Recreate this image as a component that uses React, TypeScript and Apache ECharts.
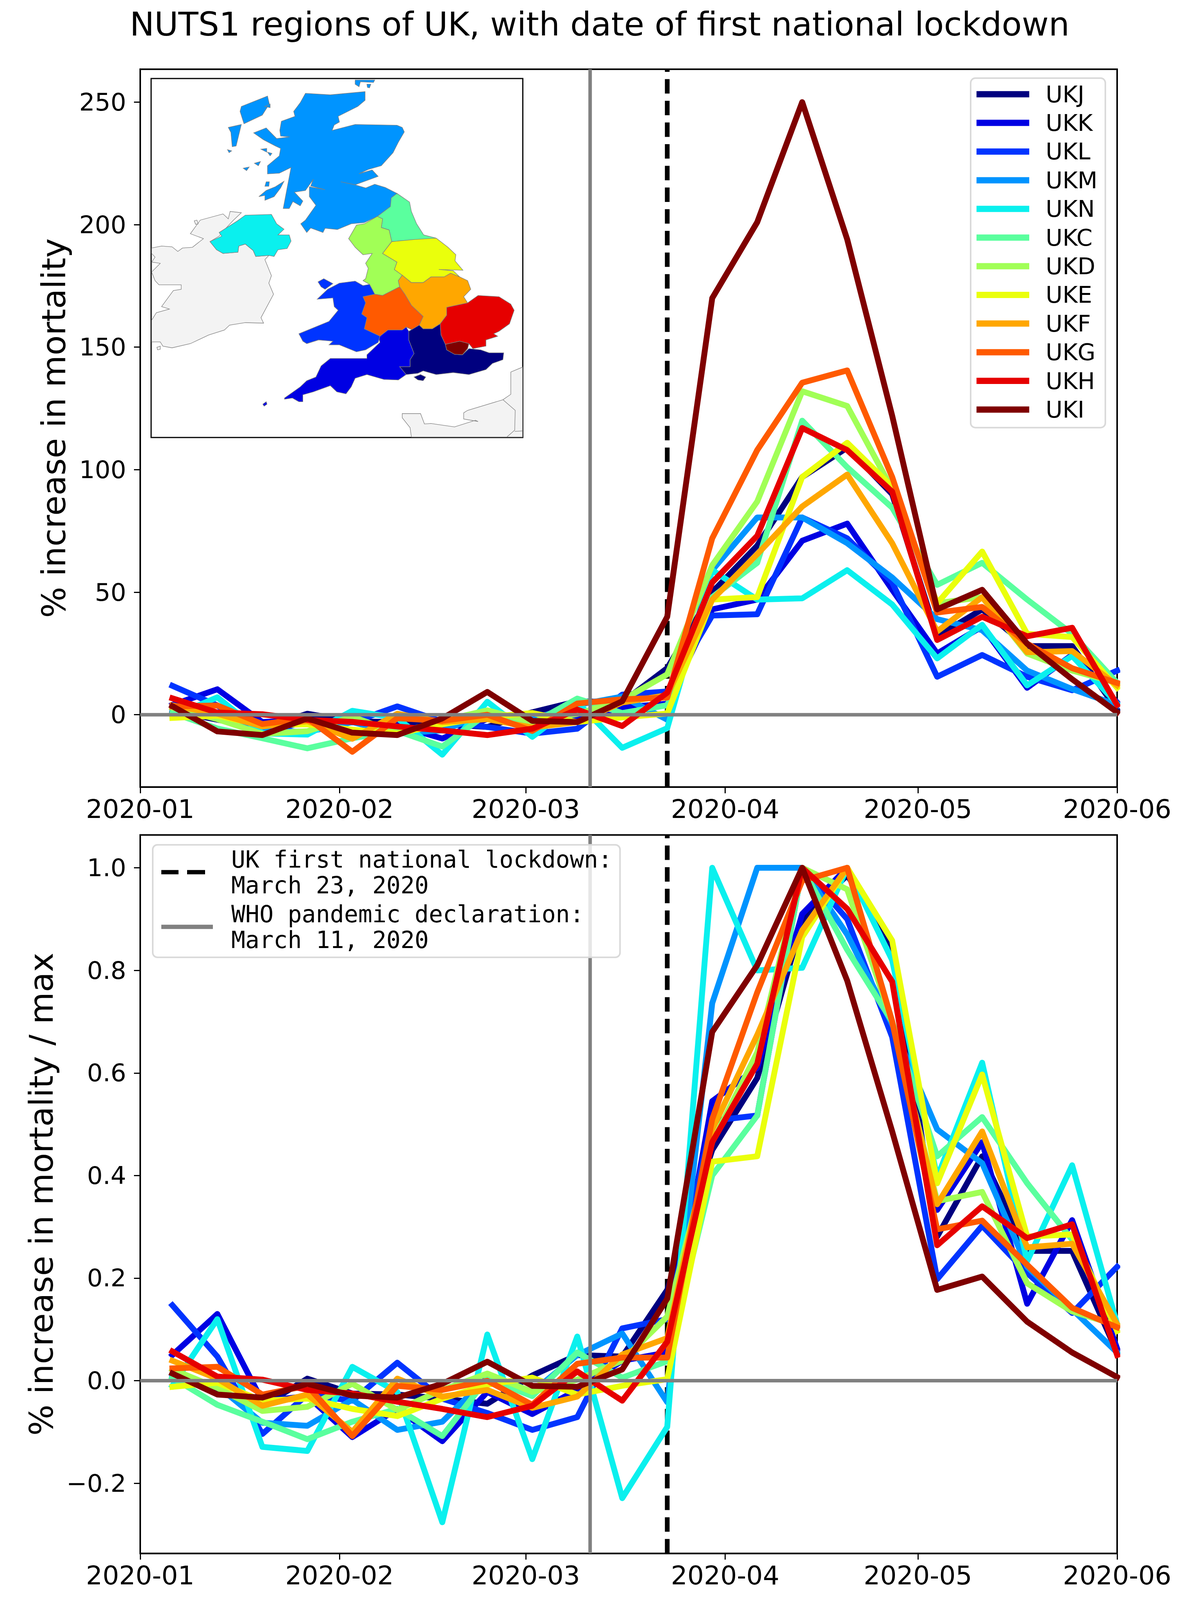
import React, { useEffect, useRef } from "react";
import * as echarts from "echarts";

const weeks = ["2020-01-06","2020-01-13","2020-01-20","2020-01-27","2020-02-03","2020-02-10","2020-02-17","2020-02-24","2020-03-02","2020-03-09","2020-03-16","2020-03-23","2020-03-30","2020-04-06","2020-04-13","2020-04-20","2020-04-27","2020-05-04","2020-05-11","2020-05-18","2020-05-25","2020-06-01"];
const monthTicks = ["2020-01-01","2020-02-01","2020-03-01","2020-04-01","2020-05-01","2020-06-01"];
const regions = ["UKJ","UKK","UKL","UKM","UKN","UKC","UKD","UKE","UKF","UKG","UKH","UKI"];
const regionColors = ["#00007f","#0000e3","#0034ff","#0094ff","#0af0ee","#5aff9e","#a1ff56","#eaff0c","#ffa700","#ff5a00","#e60000","#7f0000"];
const topTicks = [0,50,100,150,200,250];
const bottomTicks = [-0.2,0,0.2,0.4,0.6,0.8,1.0];

const pctUKJ = [1.5,-2,-5.5,0.4,-2.7,-3,-3.8,-5,1,5.5,5.1,19,50,69,97,109,90,32,43,28,28,2];
const pctUKK = [4,10.4,-3,-2,-8.5,-4.3,-9.7,-1.7,-5,-1.4,3,4.5,43,47,71,78,51,25,36,11,24.4,5];
const pctUKL = [11.8,3.8,-8.4,-2.2,-3.1,3.4,-2.8,-5,-7.7,-5.7,8.2,9.5,40.5,41,80.5,72,54,15.5,24.4,15.5,10,18];
const pctUKM = [0.8,-0.8,-6.6,-7,-3,-7.7,-6.4,0.5,-1.8,4,7.4,-2,59,80.5,80.5,70,56,39,34.5,18,10.5,4];
const pctUKN = [-0.6,7.1,-7.6,-8.1,1.6,-1.3,-16.3,5.3,-9,5.1,-13.5,-5.5,59,47,47.5,59,45,23,36.7,12,24,4.5];
const pctUKC = [0.7,-5.6,-9.6,-13.7,-9.6,-6.6,-13,0.5,-3.6,6.6,0.7,3.9,48,62,120,101,84.5,53,62,47,33,13];
const pctUKD = [2.9,-1.8,-7.8,-6.7,-0.8,-7.5,-2.4,1.8,-2.9,0.3,6,16.5,61,87,132,126,92,45.5,48,25,18,13];
const pctUKE = [-1.3,-0.4,-4.3,-3.9,-6.1,-7.7,-3.9,-0.9,0.7,-3,-1.1,0.5,47,48,97,111,93,45.5,66.6,33,31.7,11];
const pctUKF = [3.8,0.4,-4.8,-2.6,-9.8,0.4,-3,-1.8,-5.2,-3,5,8,47,65.5,85,98,70,34,48,25.5,26,12];
const pctUKG = [3.4,3.8,-3.8,-1.4,-15.1,-1.4,-2.5,0,-6.6,4.6,6.3,7,72,108,135.5,140.5,97,41.7,44,29,19,13];
const pctUKH = [6.7,0.9,0.2,-2.1,-2.9,-4.8,-6.4,-8.3,-5.7,2.1,-4.6,9,54,73,117,108,91,30.5,40,32,35.5,4];
const pctUKI = [3.5,-6.8,-8.3,-1.5,-7.3,-8.3,-1.5,9.3,-2.5,-3,5.5,40,170,201,250,194,122,43,51,29,14.5,1];
const pctAll = [pctUKJ,pctUKK,pctUKL,pctUKM,pctUKN,pctUKC,pctUKD,pctUKE,pctUKF,pctUKG,pctUKH,pctUKI];

const normUKJ = [0.014,-0.02,-0.05,0.004,-0.025,-0.027,-0.035,-0.045,0.01,0.05,0.047,0.177,0.45,0.59,0.896,0.986,0.847,0.281,0.4375,0.253,0.253,0.055];
const normUKK = [0.05,0.13,-0.04,-0.03,-0.11,-0.055,-0.118,-0.022,-0.065,-0.018,0.039,0.055,0.545,0.61,0.91,1,0.7,0.333,0.465,0.15,0.313,0.0625];
const normUKL = [0.147,0.047,-0.104,-0.027,-0.039,0.035,-0.035,-0.063,-0.096,-0.071,0.102,0.12,0.507,0.517,1,0.9,0.67,0.198,0.302,0.21,0.132,0.222];
const normUKM = [0.01,-0.01,-0.082,-0.088,-0.037,-0.096,-0.08,0.006,-0.022,0.05,0.092,-0.042,0.736,1,1,0.87,0.695,0.49,0.424,0.222,0.139,0.055];
const normUKN = [-0.01,0.12,-0.129,-0.137,0.027,-0.022,-0.276,0.09,-0.153,0.086,-0.229,-0.09,1,0.8,0.805,1,0.82,0.396,0.62,0.233,0.42,0.11];
const normUKC = [0.006,-0.047,-0.08,-0.114,-0.08,-0.055,-0.108,0.004,-0.03,0.055,0.006,0.038,0.4,0.517,1,0.84,0.7,0.4375,0.514,0.385,0.275,0.105];
const normUKD = [0.022,-0.014,-0.059,-0.051,-0.006,-0.057,-0.018,0.014,-0.022,0.002,0.039,0.125,0.465,0.64,1,0.958,0.7,0.35,0.368,0.19,0.135,0.108];
const normUKE = [-0.012,-0.004,-0.039,-0.035,-0.055,-0.069,-0.035,-0.008,0.006,-0.027,-0.01,0.003,0.427,0.4375,0.865,1,0.858,0.385,0.597,0.281,0.285,0.097];
const normUKF = [0.039,0.004,-0.049,-0.027,-0.1,0.004,-0.031,-0.018,-0.053,-0.031,0.051,0.083,0.49,0.674,0.878,1,0.7,0.344,0.486,0.26,0.267,0.11];
const normUKG = [0.024,0.027,-0.027,-0.01,-0.108,-0.01,-0.018,0,-0.047,0.033,0.045,0.045,0.51,0.757,0.975,1,0.7,0.295,0.312,0.226,0.142,0.104];
const normUKH = [0.057,0.008,0.002,-0.018,-0.025,-0.041,-0.055,-0.071,-0.049,0.018,-0.039,0.076,0.465,0.618,1,0.92,0.778,0.264,0.34,0.278,0.305,0.05];
const normUKI = [0.014,-0.027,-0.033,-0.006,-0.029,-0.033,-0.006,0.037,-0.01,-0.012,0.022,0.16,0.68,0.81,1,0.78,0.486,0.177,0.203,0.115,0.055,0.007];
const normAll = [normUKJ,normUKK,normUKL,normUKM,normUKN,normUKC,normUKD,normUKE,normUKF,normUKG,normUKH,normUKI];

const lockdownDate = "2020-03-23";
const whoDate = "2020-03-11";
const lockdownName = "UK first national lockdown:\nMarch 23, 2020";
const whoName = "WHO pandemic declaration:\nMarch 11, 2020";
const topRange = [-29.5, 263.4];
const bottomRange = [-0.3367, 1.064];

const mapRegions: { color: string; rings: number[][][] }[] = [
  { color: "#f3f3f3", rings: [
    [[72,738],[110,730],[150,733],[172,752],[190,738],[228,735],[270,700],[220,680],[258,625],[345,600],[365,620],[372,590],[415,595],[385,625],[345,670],[330,690],[295,712],[320,745],[345,760],[402,755],[405,730],[430,722],[460,748],[470,772],[520,768],[505,785],[530,850],[520,880],[538,925],[490,1020],[500,1042],[430,1040],[370,1050],[350,1070],[290,1090],[220,1125],[150,1142],[115,1135],[105,1118],[72,1118],[72,1030],[90,1000],[140,985],[110,975],[155,910],[185,905],[185,887],[100,887],[85,870],[72,835],[105,800],[72,795],[85,775],[72,760]],
    [[1030,1408],[1100,1408],[1115,1450],[1140,1448],[1230,1462],[1310,1435],[1320,1440],[1265,1430],[1265,1405],[1280,1395],[1415,1352],[1445,1330],[1445,1240],[1490,1220],[1490,1503],[1065,1503],[1060,1465],[1030,1425]],
    [[235,628],[245,625],[250,640],[240,642]],
    [[92,1140],[105,1135],[105,1148],[95,1150]],
  ]},
  { color: "#0094ff", rings: [
    [[660,112],[755,118],[888,105],[888,140],[860,165],[785,205],[790,228],[770,240],[762,262],[850,238],[1010,241],[1030,250],[1038,268],[1015,310],[995,352],[950,405],[900,420],[865,437],[915,422],[938,448],[850,482],[795,470],[850,482],[890,495],[925,480],[965,493],[1010,517],[988,535],[985,570],[935,610],[885,635],[835,640],[782,663],[735,658],[727,675],[680,657],[665,675],[642,640],[660,625],[700,565],[675,530],[675,490],[735,502],[680,487],[690,460],[660,505],[618,512],[650,548],[640,567],[612,550],[598,578],[575,578],[605,412],[560,435],[515,438],[515,405],[560,365],[565,335],[545,325],[500,300],[462,272],[510,252],[550,295],[600,288],[565,285],[562,262],[568,225],[620,205],[615,185],[640,150]],
    [[415,165],[515,123],[522,155],[495,200],[425,235],[410,185]],
    [[365,250],[415,238],[395,325],[380,328],[375,270]],
    [[362,340],[378,345],[368,352]],
    [[490,338],[512,335],[512,350]],
    [[515,350],[532,355],[525,365]],
    [[505,165],[525,155],[525,170]],
    [[465,395],[488,388],[480,405]],
    [[422,415],[445,410],[435,425]],
    [[482,530],[510,505],[545,490],[578,468],[565,495],[540,530],[505,545],[505,525]],
    [[510,470],[522,470],[520,488],[505,488]],
    [[850,58],[925,58],[920,68],[870,65],[865,85],[850,75]],
    [[895,75],[910,75],[905,90],[897,88]],
  ]},
  { color: "#0af0ee", rings: [
    [[295,712],[340,690],[330,675],[400,628],[430,605],[530,602],[550,640],[578,662],[555,685],[598,685],[605,710],[590,740],[555,745],[540,772],[520,768],[470,772],[460,748],[430,722],[405,730],[402,755],[345,760],[320,745]],
  ]},
  { color: "#5aff9e", rings: [
    [[1010,517],[1058,552],[1065,590],[1085,640],[1112,685],[1160,698],[1080,708],[990,712],[980,665],[950,655],[955,620],[935,610],[985,570],[988,535]],
  ]},
  { color: "#a1ff56", rings: [
    [[935,610],[955,620],[950,655],[980,665],[990,712],[955,760],[1010,795],[1000,825],[1030,848],[1015,870],[1020,895],[955,930],[925,925],[905,885],[880,870],[890,862],[900,820],[890,800],[915,760],[880,765],[850,735],[825,700],[855,645],[885,640]],
  ]},
  { color: "#eaff0c", rings: [
    [[990,712],[1080,703],[1160,698],[1205,735],[1235,765],[1232,790],[1262,828],[1170,825],[1225,830],[1250,855],[1215,840],[1190,855],[1140,855],[1110,878],[1065,878],[1030,848],[1000,825],[1010,795],[955,760]],
  ]},
  { color: "#ffa700", rings: [
    [[1030,848],[1065,878],[1110,878],[1140,855],[1190,855],[1215,840],[1250,855],[1280,870],[1292,905],[1265,935],[1280,960],[1200,978],[1200,1010],[1175,1045],[1145,1065],[1110,1065],[1095,1050],[1110,1015],[1065,970],[1040,925],[1020,895],[1015,870]],
  ]},
  { color: "#ff5a00", rings: [
    [[1020,895],[1040,925],[1065,970],[1110,1015],[1095,1050],[1070,1070],[1045,1058],[1030,1070],[975,1070],[945,1095],[885,1065],[895,1020],[875,1005],[890,960],[880,935],[925,925],[955,930]],
  ]},
  { color: "#e60000", rings: [
    [[1280,960],[1320,930],[1400,935],[1445,965],[1458,990],[1440,1045],[1400,1075],[1380,1085],[1395,1095],[1350,1110],[1350,1135],[1300,1145],[1285,1125],[1250,1115],[1195,1128],[1178,1090],[1175,1045],[1200,1010],[1200,978]],
  ]},
  { color: "#00007f", rings: [
    [[1055,1075],[1095,1050],[1110,1065],[1145,1065],[1175,1045],[1178,1090],[1195,1128],[1200,1150],[1230,1168],[1260,1170],[1285,1145],[1330,1150],[1362,1162],[1418,1162],[1415,1190],[1375,1205],[1350,1230],[1285,1250],[1225,1242],[1160,1250],[1110,1235],[1090,1245],[1045,1250],[1020,1218],[1060,1218],[1060,1190],[1075,1165],[1055,1110]],
    [[1075,1260],[1100,1250],[1120,1260],[1110,1275],[1090,1272]],
  ]},
  { color: "#7f0000", rings: [
    [[1195,1128],[1250,1115],[1285,1125],[1280,1145],[1260,1170],[1230,1168],[1200,1150]],
  ]},
  { color: "#0000e3", rings: [
    [[945,1095],[975,1070],[1030,1070],[1045,1058],[1055,1075],[1055,1110],[1075,1165],[1060,1190],[1060,1218],[1020,1218],[1045,1250],[1015,1272],[960,1270],[895,1250],[850,1265],[835,1300],[815,1328],[780,1320],[755,1295],[690,1320],[650,1332],[650,1360],[635,1360],[610,1345],[580,1350],[580,1345],[640,1300],[665,1275],[700,1260],[720,1215],[755,1185],[895,1185],[895,1170],[945,1120],[938,1095]],
    [[497,1370],[510,1360],[513,1370],[502,1378]],
  ]},
  { color: "#0034ff", rings: [
    [[705,945],[745,905],[790,880],[850,872],[880,890],[905,885],[925,925],[880,935],[890,960],[875,1005],[895,1020],[885,1065],[945,1095],[938,1120],[890,1150],[855,1158],[790,1130],[750,1130],[765,1115],[710,1110],[665,1125],[650,1115],[635,1085],[750,1035],[785,990],[770,975],[765,940]],
    [[708,875],[730,862],[765,882],[735,905],[720,895]],
  ]},
];
const mapBorders = [
  [[1415,1352],[1462,1395],[1460,1475],[1430,1503]],
  [[1460,1480],[1490,1478]],
];

// The layout is measured on the 4873px-tall reference. The browser window that
// photographs the page turned out to be 4096px tall, so anything below that is
// lost; vertical positions therefore follow the height the window really has.
const PAGE_W = 3044;
const REF_H = 4873;
const PAGE_H = Math.min(window.innerHeight || REF_H, REF_H);
const FY = PAGE_H / REF_H;
const y = (v: number) => v * FY;

const mapX = (v: number) => 340 + v / 1.4933;
const mapY = (v: number) => y(200 + v / 1.3288);
const mapPt = (p: number[]) => [mapX(p[0]), mapY(p[1])];

const FONT = "DejaVu Sans";
const t = (s: string) => Date.parse(s);

function buildGraphic() {
  const box = {
    type: "rect", z: 20,
    shape: { x: mapX(70), y: mapY(52), width: mapX(1491) - mapX(70), height: mapY(1505) - mapY(52) },
    style: { fill: "#fff", stroke: "#000", lineWidth: 3 },
  };
  const polys: any[] = [];
  mapRegions.forEach((r) =>
    r.rings.forEach((ring) =>
      polys.push({
        type: "polygon", z: 21,
        shape: { points: ring.map(mapPt) },
        style: { fill: r.color, stroke: "#808080", lineWidth: 1.3 },
      })
    )
  );
  const lines = mapBorders.map((b) => ({
    type: "polyline", z: 21,
    shape: { points: b.map(mapPt) },
    style: { fill: "none", stroke: "#808080", lineWidth: 1.3 },
  }));
  return [box, ...polys, ...lines];
}

function axisCommon() {
  return {
    axisLine: { show: true, onZero: false, lineStyle: { color: "#000", width: 4 } },
    splitLine: { show: false },
  };
}

function xAxis(gridIndex: number) {
  const ticks = monthTicks.map(t);
  return {
    ...axisCommon(),
    type: "time", gridIndex,
    min: t("2020-01-01"), max: t("2020-06-01"),
    axisTick: { show: true, length: 16, lineStyle: { color: "#000", width: 3 }, customValues: ticks },
    axisLabel: {
      show: true, customValues: ticks, formatter: "{yyyy}-{MM}", hideOverlap: false,
      color: "#000", fontFamily: FONT, fontSize: 66.5, margin: 27 * FY,
      showMinLabel: true, showMaxLabel: true,
    },
  };
}

function yAxis(gridIndex: number, range: number[], ticks: number[], name: string, gap: number, fmt: (v: number) => string) {
  return {
    ...axisCommon(),
    type: "value", gridIndex, min: range[0], max: range[1],
    name, nameLocation: "middle", nameGap: gap, nameRotate: 90,
    nameTextStyle: { color: "#000", fontFamily: FONT, fontSize: 84 },
    axisTick: { show: true, length: 16, lineStyle: { color: "#000", width: 3 }, customValues: ticks },
    axisLabel: {
      show: true, customValues: ticks, formatter: fmt, color: "#000",
      fontFamily: FONT, fontSize: 63, margin: 36,
    },
  };
}

function refSeries(idx: number, range: number[]) {
  const vertical = (name: string, date: string, color: string, width: number, type: any, z: number) => ({
    type: "line", name, xAxisIndex: idx, yAxisIndex: idx, z, silent: true,
    symbol: "none", animation: false,
    data: [[t(date), range[0]], [t(date), range[1]]],
    lineStyle: { color, width, type },
    itemStyle: { color },
  });
  return [
    vertical(lockdownName, lockdownDate, "#000", 12, [44 * FY, 22 * FY], 1),
    vertical(whoName, whoDate, "#808080", 9, "solid", 3),
    {
      type: "line", name: "zero", xAxisIndex: idx, yAxisIndex: idx, z: 3, silent: true, symbol: "none",
      data: [[t("2020-01-01"), 0], [t("2020-06-01"), 0]],
      lineStyle: { color: "#808080", width: 9 },
    },
  ];
}

function dataSeries(idx: number, all: number[][]) {
  return regions.map((name, i) => ({
    type: "line", name, xAxisIndex: idx, yAxisIndex: idx, z: 2,
    symbol: "none", smooth: false, animation: false, color: regionColors[i],
    data: weeks.map((w, k) => [t(w), all[i][k]]),
    lineStyle: { color: regionColors[i], width: 15, cap: "square", join: "round" },
    itemStyle: { color: regionColors[i] },
  }));
}

const DASH_ICON = "path://M0 0H44V12H0ZM66 0H112V12H66ZM132 0V12";

export default function App() {
  const ref = useRef<HTMLDivElement>(null);
  useEffect(() => {
    document.body.style.margin = "0";
    const chart = echarts.init(ref.current!, undefined, { renderer: "svg" });
    const topLine = 60;
    const lowLine = Math.max(66, 70 * FY);
    chart.setOption({
      animation: false,
      useUTC: true,
      backgroundColor: "#fff",
      title: {
        text: "NUTS1 regions of UK, with date of first national lockdown",
        left: 1530, top: Math.max(4, y(74) - 47), textAlign: "center",
        textStyle: { color: "#000", fontFamily: FONT, fontSize: 84, fontWeight: "normal" },
      },
      grid: [
        { left: 359, right: PAGE_W - 2860, top: y(211), height: y(2397) - y(211), show: true, borderColor: "#000", borderWidth: 4, backgroundColor: "#fff", containLabel: false },
        { left: 359, right: PAGE_W - 2860, top: y(2543), height: y(4731) - y(2543), show: true, borderColor: "#000", borderWidth: 4, backgroundColor: "#fff", containLabel: false },
      ],
      xAxis: [xAxis(0), xAxis(1)],
      yAxis: [
        yAxis(0, topRange, topTicks, "% increase in mortality", 179, (v: number) => String(v)),
        yAxis(1, bottomRange, bottomTicks, "% increase in mortality / max", 211, (v: number) => v.toFixed(1).replace("-", "\u2212")),
      ],
      legend: [
        {
          show: true, orient: "vertical", left: 2485, top: y(238), align: "left",
          data: regions.map((name) => ({ name, icon: "rect" })), selectedMode: false,
          padding: [y(49) - topLine / 2, 20, y(55) - topLine / 2, 15], itemGap: y(87.3) - topLine, itemWidth: 135, itemHeight: 16,
          backgroundColor: "rgba(255,255,255,0.8)", borderColor: "#d9d9d9", borderWidth: 4, borderRadius: 12,
          textStyle: { color: "#000", fontFamily: FONT, fontSize: 59, lineHeight: topLine, padding: [0, 0, 0, 37] },
        },
        {
          show: true, orient: "vertical", left: 391, top: y(2573), align: "left",
          symbolKeepAspect: false,
          data: [{ name: lockdownName, icon: DASH_ICON }, { name: whoName, icon: "rect" }], selectedMode: false,
          padding: [4, 20, 12, 22], itemGap: 8, itemWidth: 132, itemHeight: 11,
          backgroundColor: "rgba(255,255,255,0.8)", borderColor: "#d9d9d9", borderWidth: 4, borderRadius: 12,
          textStyle: { color: "#000", fontFamily: "DejaVu Sans Mono", fontSize: 60, lineHeight: lowLine, padding: [0, 0, 0, 42] },
        },
      ],
      series: [
        ...dataSeries(0, pctAll), ...refSeries(0, topRange),
        ...dataSeries(1, normAll), ...refSeries(1, bottomRange),
      ],
      graphic: buildGraphic(),
    });
    return () => chart.dispose();
  }, []);
  return <div ref={ref} style={{ display: "block", width: PAGE_W, height: PAGE_H }} />;
}
